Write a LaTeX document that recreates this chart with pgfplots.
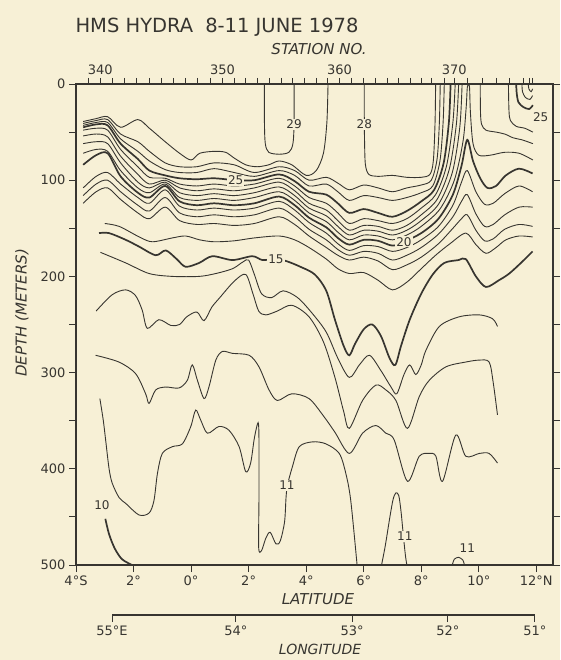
\documentclass[border=0pt]{standalone}
\usepackage{fontspec}
\setmainfont{DejaVu Sans}
\usepackage{pgfplots}
\pgfplotsset{compat=1.18}
\definecolor{bg}{RGB}{247,240,214}
\definecolor{ink}{RGB}{55,53,48}
\pgfplotsset{
  iso/.style={ink, line width=0.9pt, smooth, tension=0.5},
  isob/.style={ink, line width=1.7pt, smooth, tension=0.5},
}
\tikzset{lbl/.style={fill=bg, inner sep=1pt, text=ink, font=\fontsize{12}{12}\selectfont}}

\begin{document}
\begin{tikzpicture}
\fill[bg] (0,0) rectangle (560pt,660pt);
\useasboundingbox (0,0) rectangle (560pt,660pt);

% main section: latitude vs depth
\begin{axis}[
  at={(76pt,95pt)}, anchor=south west,
  width=477pt, height=481pt, scale only axis,
  xmin=-4, xmax=12.58, ymin=0, ymax=500, y dir=reverse,
  axis line style={ink, line width=1.1pt},
  xtick={-4,-2,...,12},
  xticklabels={4°S,2°,0°,2°,4°,6°,8°,10°,12°N},
  xtick pos=left,
  ytick={0,100,...,500}, yticklabels={0,100,200,300,400,500},
  minor ytick={50,150,...,450},
  ytick pos=both, yticklabel pos=left,
  tick align=outside,
  major tick length=7pt, minor tick length=7pt,
  tick style={ink, line width=1pt},
  ticklabel style={font=\fontsize{13}{13}\selectfont, text=ink},
]
% 29 pocket
\addplot[iso] coordinates {(2.55,0)(2.55,40)(2.58,62)(2.7,71)(3.06,73)(3.4,71)(3.54,62)(3.58,40)(3.58,0)};
% 28
\addplot[iso] coordinates {(-3.75,39)(-3.3,36)(-2.9,34)(-2.45,45)(-1.85,37)(-1.45,46)(-0.9,60)(-0.4,72)(0.0,79)(0.3,72)(0.8,70)(1.2,71)(1.5,77)(1.9,84)(2.3,86)(2.7,84)(3.06,80)(3.5,84)(4.0,95)(4.35,90)(4.6,72)(4.72,40)(4.76,0)};
\addplot[iso] coordinates {(6.02,0)(6.02,30)(6.03,60)(6.06,84)(6.18,94)(6.5,96)(7.0,95)(7.5,97)(8.0,97)(8.3,94)(8.42,80)(8.48,40)(8.5,0)};
% 27
\addplot[iso] coordinates {(-3.75,41)(-3.3,38)(-2.9,37)(-2.45,52)(-1.85,60)(-1.45,70)(-0.9,82)(-0.4,86)(0.2,86)(0.8,82)(1.5,84)(2.2,92)(3.06,86)(3.6,90)(4.1,100)(4.7,97)(5.1,103)(5.5,110)(6.0,105)(6.5,108)(7.0,112)(7.5,108)(8.0,105)(8.35,100)(8.55,78)(8.63,40)(8.66,0)};
% 26
\addplot[iso] coordinates {(-3.75,43)(-3.3,40)(-2.9,40)(-2.45,57)(-1.85,70)(-1.45,80)(-0.9,89)(-0.4,92)(0.2,92)(0.8,88)(1.5,92)(2.2,96)(3.06,90)(3.6,95)(4.1,106)(4.7,104)(5.1,112)(5.5,121)(6.0,116)(6.5,118)(7.0,121)(7.5,118)(8.0,113)(8.4,106)(8.65,80)(8.76,40)(8.8,0)};
% 25
\addplot[isob] coordinates {(-3.75,45)(-3.3,42)(-2.9,43)(-2.45,62)(-1.85,78)(-1.45,90)(-0.9,95)(-0.4,98)(0.2,99)(0.8,98)(1.55,100)(2.2,100)(3.06,94)(3.6,101)(4.1,112)(4.7,115)(5.1,124)(5.5,134)(6.0,130)(6.5,134)(7.0,138)(7.5,132)(8.0,122)(8.45,110)(8.78,82)(8.96,40)(9.02,0)};
% 24
\addplot[iso] coordinates {(-3.75,48)(-3.3,46)(-2.9,48)(-2.45,68)(-1.85,86)(-1.45,97)(-0.9,98)(-0.4,104)(0.2,106)(0.8,104)(1.5,106)(2.2,104)(3.06,98)(3.6,106)(4.1,118)(4.7,124)(5.1,134)(5.5,145)(6.0,140)(6.5,142)(7.0,145)(7.5,140)(8.0,129)(8.5,115)(8.88,85)(9.1,40)(9.18,0)};
% 23
\addplot[iso] coordinates {(-3.75,54)(-3.3,52)(-2.9,55)(-2.45,75)(-1.85,94)(-1.45,104)(-0.9,100)(-0.4,108)(0.2,111)(0.8,109)(1.5,111)(2.2,108)(3.06,102)(3.6,111)(4.1,124)(4.7,131)(5.1,142)(5.5,152)(6.0,147)(6.5,148)(7.0,152)(7.5,147)(8.0,136)(8.55,120)(8.98,88)(9.22,42)(9.3,0)};
\addplot[iso] coordinates {(11.03,0)(11.05,28)(11.1,38)(11.3,44)(11.6,46)(11.88,50)};
% 22
\addplot[iso] coordinates {(-3.75,62)(-3.3,60)(-2.9,62)(-2.45,82)(-1.85,102)(-1.45,108)(-0.9,102)(-0.4,113)(0.2,116)(0.8,114)(1.5,116)(2.2,113)(3.06,107)(3.6,116)(4.1,129)(4.7,137)(5.1,148)(5.5,157)(6.0,152)(6.5,153)(7.0,157)(7.5,152)(8.0,142)(8.6,125)(9.08,92)(9.34,45)(9.42,0)};
\addplot[iso] coordinates {(10.05,0)(10.06,30)(10.1,42)(10.25,48)(10.6,50)(10.9,52)(11.2,56)(11.5,58)(11.88,62)};
% 21 with the narrow tongue
\addplot[iso] coordinates {(-3.75,72)(-3.3,68)(-2.9,70)(-2.45,90)(-1.85,108)(-1.45,113)(-0.9,104)(-0.4,118)(0.2,121)(0.8,119)(1.5,121)(2.2,118)(3.06,112)(3.6,121)(4.1,134)(4.7,143)(5.1,154)(5.5,162)(6.0,157)(6.5,158)(7.0,162)(7.5,157)(8.0,148)(8.65,130)(9.15,100)(9.45,60)(9.56,25)(9.6,4)(9.64,1)(9.68,4)(9.71,30)(9.8,62)(10.0,74)(10.4,74)(10.9,71)(11.4,72)(11.88,79)};
% 20
\addplot[isob] coordinates {(-3.75,84)(-3.3,74)(-2.9,72)(-2.45,96)(-1.85,113)(-1.45,118)(-0.9,106)(-0.4,122)(0.2,126)(0.8,124)(1.5,126)(2.2,124)(3.06,117)(3.6,126)(4.1,139)(4.7,149)(5.1,160)(5.5,167)(6.0,162)(6.5,163)(7.0,168)(7.4,164)(8.0,155)(8.6,140)(9.1,115)(9.4,85)(9.6,58)(9.8,80)(10.05,98)(10.3,108)(10.6,106)(10.94,95)(11.4,88)(11.87,93)};
% 19
\addplot[iso] coordinates {(-3.75,108)(-3.3,96)(-2.9,92)(-2.45,104)(-1.85,118)(-1.45,124)(-0.9,110)(-0.4,127)(0.2,131)(0.8,129)(1.5,131)(2.2,129)(3.06,122)(3.6,131)(4.1,144)(4.7,155)(5.1,166)(5.5,173)(6.0,168)(6.5,169)(7.0,174)(7.5,170)(8.0,162)(8.6,148)(9.1,126)(9.4,102)(9.6,90)(9.9,112)(10.2,125)(10.5,124)(10.9,114)(11.4,106)(11.87,112)};
% 18
\addplot[iso] coordinates {(-3.75,116)(-3.3,104)(-2.9,100)(-2.45,112)(-1.85,126)(-1.45,132)(-0.9,118)(-0.4,134)(0.2,138)(0.8,136)(1.5,138)(2.2,136)(3.06,129)(3.6,138)(4.1,151)(4.7,162)(5.1,172)(5.5,178)(6.0,174)(6.5,176)(7.0,183)(7.5,178)(8.0,170)(8.6,156)(9.1,138)(9.4,122)(9.6,115)(9.9,135)(10.2,148)(10.5,146)(10.9,136)(11.4,128)(11.87,128)};
% 17
\addplot[iso] coordinates {(-3.75,124)(-3.3,112)(-2.9,108)(-2.45,120)(-1.85,134)(-1.45,140)(-0.9,128)(-0.4,142)(0.2,146)(0.8,145)(1.5,147)(2.2,145)(3.06,138)(3.6,146)(4.1,158)(4.7,170)(5.1,178)(5.5,183)(6.0,180)(6.5,184)(7.0,193)(7.5,188)(8.0,180)(8.6,166)(9.1,150)(9.4,140)(9.6,136)(9.9,152)(10.2,163)(10.5,161)(10.9,151)(11.4,146)(11.87,148)};
% 16
\addplot[iso] coordinates {(-3.0,145)(-2.5,148)(-1.8,159)(-1.35,164)(-0.65,160)(-0.19,158)(0.3,162)(0.8,164)(1.5,163)(2.2,160)(3.06,158)(3.6,162)(4.1,170)(4.7,182)(5.1,192)(5.5,197)(6.0,196)(6.5,204)(7.0,214)(7.5,206)(8.0,192)(8.5,178)(9.0,166)(9.55,155)(9.9,167)(10.25,176)(10.6,170)(10.94,162)(11.4,158)(11.87,159)};
% 15
\addplot[isob] coordinates {(-3.2,155)(-2.85,155)(-2.27,162)(-1.81,169)(-1.23,178)(-0.88,173)(-0.5,182)(-0.19,190)(0.28,186)(0.74,179)(1.44,183)(2.13,179)(2.48,183)(2.9,182)(3.3,184)(3.8,190)(4.3,198)(4.7,215)(5.0,245)(5.3,272)(5.5,282)(5.7,270)(6.0,255)(6.3,250)(6.6,262)(6.9,285)(7.1,292)(7.3,272)(7.6,245)(8.0,218)(8.4,198)(8.8,186)(9.3,183)(9.55,182)(9.9,200)(10.25,211)(10.7,204)(11.06,197)(11.5,185)(11.87,174)};
% 14
\addplot[iso] coordinates {(-3.15,175)(-2.27,186)(-1.46,197)(-0.65,200)(0.28,200)(0.86,197)(1.44,192)(1.8,185)(2.0,183)(2.2,198)(2.45,218)(2.8,222)(3.2,215)(3.7,222)(4.2,238)(4.7,258)(5.1,285)(5.5,305)(5.85,292)(6.2,282)(6.6,298)(6.95,315)(7.15,322)(7.4,302)(7.6,292)(7.81,302)(8.0,292)(8.16,277)(8.63,252)(9.32,242)(10.02,240)(10.48,244)(10.65,252)};
% 13
\addplot[iso] coordinates {(-3.3,236)(-2.74,219)(-2.27,214)(-1.93,220)(-1.7,235)(-1.52,254)(-1.12,245)(-0.7,251)(-0.4,250)(-0.15,242)(0.2,237)(0.45,246)(0.72,232)(1.0,222)(1.5,205)(1.9,198)(2.15,218)(2.35,236)(2.6,240)(3.0,236)(3.5,230)(4.1,242)(4.6,268)(5.0,305)(5.3,340)(5.5,358)(5.96,329)(6.42,313)(6.77,318)(7.12,329)(7.52,358)(7.93,325)(8.28,308)(8.86,294)(9.55,289)(10.02,287)(10.36,289)(10.5,310)(10.65,344)};
% 12
\addplot[iso] coordinates {(-3.32,282)(-2.51,289)(-1.93,301)(-1.58,322)(-1.46,332)(-1.23,318)(-0.88,315)(-0.42,316)(-0.13,308)(0.04,292)(0.22,308)(0.45,327)(0.62,315)(0.86,287)(1.09,278)(1.44,280)(2.02,282)(2.36,294)(2.71,318)(3.0,329)(3.5,322)(4.1,327)(4.6,345)(5.0,362)(5.5,384)(5.96,363)(6.42,355)(6.77,363)(7.06,370)(7.52,413)(7.93,387)(8.28,384)(8.51,387)(8.74,413)(9.2,365)(9.55,387)(10.02,384)(10.36,384)(10.65,394)};
% 11
\addplot[iso] coordinates {(-3.17,327)(-3.05,350)(-2.97,370)(-2.85,400)(-2.74,415)(-2.5,430)(-2.27,436)(-1.81,448)(-1.46,446)(-1.29,433)(-1.17,405)(-1.0,384)(-0.65,377)(-0.3,374)(-0.01,356)(0.16,339)(0.33,349)(0.57,363)(0.97,356)(1.32,360)(1.67,377)(1.9,403)(2.07,394)(2.2,368)(2.33,352)(2.36,370)(2.36,430)(2.35,482)(2.45,485)(2.6,472)(2.75,466)(2.95,478)(3.1,475)(3.25,455)(3.3,430)(3.35,417)(3.52,398)(3.76,377)(4.22,372)(4.68,374)(5.15,384)(5.38,405)(5.55,433)(5.77,500)};
\addplot[iso] coordinates {(6.62,500)(6.75,480)(6.9,452)(7.02,432)(7.12,425)(7.22,428)(7.3,445)(7.38,470)(7.45,490)(7.5,500)};
\addplot[iso] coordinates {(9.08,500)(9.15,494)(9.3,492)(9.45,495)(9.5,500)};
% 10
\addplot[isob] coordinates {(-2.98,452)(-2.85,468)(-2.65,483)(-2.4,494)(-2.05,500)};
% small cells at the top right
\addplot[isob] coordinates {(11.3,0)(11.32,10)(11.38,19)(11.55,24)(11.75,26)(11.88,22)};
\addplot[iso] coordinates {(11.5,0)(11.52,8)(11.62,14)(11.78,16)(11.87,12)};
\addplot[iso] coordinates {(11.72,0)(11.74,5)(11.82,8)(11.87,5)};

\node[lbl] at (axis cs:3.58,42) {29};
\node[lbl] at (axis cs:6.02,42) {28};
\node[lbl] at (axis cs:1.55,100) {25};
\node[lbl] at (axis cs:12.15,34) {25};
\node[lbl] at (axis cs:7.4,164) {20};
\node[lbl] at (axis cs:2.95,182) {15};
\node[lbl] at (axis cs:3.33,417) {11};
\node[lbl] at (axis cs:7.43,470) {11};
\node[lbl] at (axis cs:9.6,482) {11};
\node[lbl] at (axis cs:-3.1,438) {10};
\end{axis}

% station numbers along the top
\begin{axis}[
  at={(76pt,95pt)}, anchor=south west,
  width=477pt, height=481pt, scale only axis,
  xmin=-4, xmax=12.58, ymin=0, ymax=500,
  axis x line*=top, axis y line=none,
  axis line style={ink, line width=1.1pt},
  xtick={-3.58,-3.16,-2.73,-2.31,-1.88,-1.46,-1.03,-0.61,-0.18,0.24,0.67,1.09,1.5,1.9,2.31,2.72,3.13,3.53,3.94,4.35,4.75,5.16,5.57,5.98,6.4,6.81,7.22,7.63,8.0,8.35,8.8,9.15,9.6,10.12,10.6,11.06,11.55,11.76,11.86},
  xticklabels={,340,,,,,,,,,,350,,,,,,,,,,360,,,,,,,,,,370,,,,,,,},
  tick align=outside, major tick length=6pt,
  tick style={ink, line width=1pt},
  ticklabel style={font=\fontsize{13}{13}\selectfont, text=ink},
]
\end{axis}

% longitude scale below
\begin{axis}[
  at={(112pt,45pt)}, anchor=south west,
  width=422.9pt, height=10pt, scale only axis,
  xmin=-2.78, xmax=11.93, ymin=0, ymax=1,
  axis x line*=bottom, axis y line=none,
  axis line style={ink, line width=1.1pt},
  xtick={-2.78,1.53,5.57,8.9,11.93},
  xticklabels={55°E,54°,53°,52°,51°},
  tick align=outside, major tick length=7pt,
  tick style={ink, line width=1pt},
  ticklabel style={font=\fontsize{13}{13}\selectfont, text=ink},
]
\end{axis}

\node[anchor=west, text=ink, font=\fontsize{19.5}{19.5}\selectfont] at (72pt,633pt) {HMS HYDRA\hspace{12pt}8-11 JUNE 1978};
\node[text=ink, font=\itshape\fontsize{15}{15}\selectfont] at (319pt,611pt) {STATION NO.};
\node[text=ink, font=\itshape\fontsize{15}{15}\selectfont] at (318pt,61pt) {LATITUDE};
\node[text=ink, font=\itshape\fontsize{14}{14}\selectfont] at (320pt,11pt) {LONGITUDE};
\node[rotate=90, text=ink, font=\itshape\fontsize{15}{15}\selectfont] at (22pt,347pt) {DEPTH (METERS)};
\end{tikzpicture}
\end{document}
